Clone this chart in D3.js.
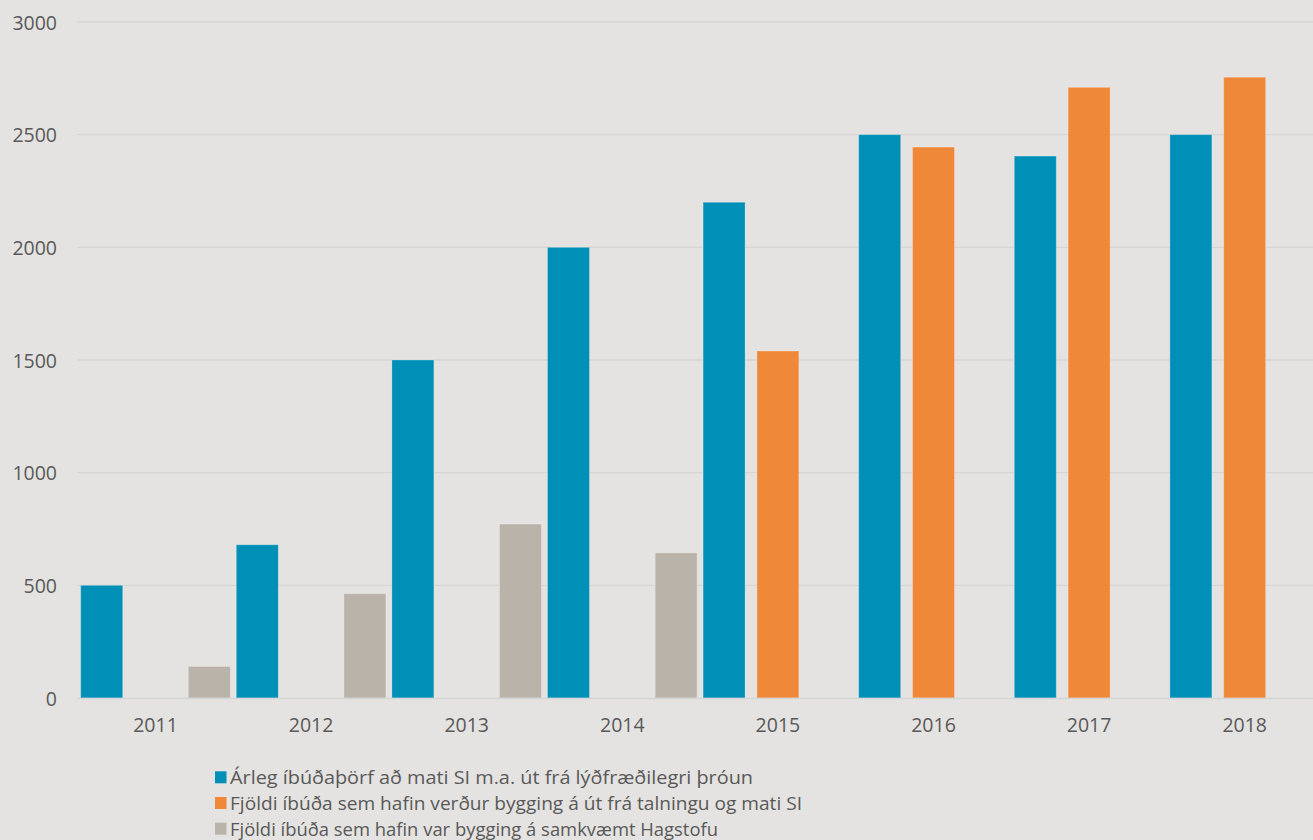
<!DOCTYPE html>
<html><head><meta charset="utf-8">
<script src="https://cdn.jsdelivr.net/npm/d3@7"></script>
<style>
html,body{margin:0;padding:0;background:#E4E3E1;}
svg{display:block;}
</style></head>
<body>
<svg id="chart" width="1313" height="840"></svg>
<script>
const years = ["2011","2012","2013","2014","2015","2016","2017","2018"];
const seriesNames = [
  "Árleg íbúðaþörf að mati SI m.a. út frá lýðfræðilegri þróun",
  "Fjöldi íbúða sem hafin verður bygging á út frá talningu og mati SI",
  "Fjöldi íbúða sem hafin var bygging á samkvæmt Hagstofu"
];
const needValues    = [500, 680, 1500, 2000, 2200, 2500, 2405, 2500];
const forecastValues= [null, null, null, null, 1540, 2445, 2710, 2755];
const statsValues   = [140, 463, 772, 644, null, null, null, null];
const yTicks = [0, 500, 1000, 1500, 2000, 2500, 3000];
const colors = ["#008FB6", "#F0883A", "#BAB3AA"];

(function(){
const svg = d3.select("#chart");
const pLeft = 77.7, pRight = 77.7 + 8*155.6, pTop = 22, pBottom = 698;

const x = d3.scaleBand().domain(years).range([pLeft, pRight]).paddingInner(0).paddingOuter(0);
const inner = d3.scaleBand().domain([0,1,2]).range([3, x.bandwidth()-3]).paddingInner(0.22).paddingOuter(0);
const y = d3.scaleLinear().domain([0, 3000]).range([pBottom, pTop]);

// gridlines
svg.append("g").selectAll("line").data(yTicks.filter(d=>d>0)).join("line")
  .attr("x1", pLeft).attr("x2", 1313)
  .attr("y1", d=>y(d)).attr("y2", d=>y(d))
  .attr("stroke", "#D6D5D3").attr("stroke-width", 1.3);

// y labels
const yAxis = d3.axisLeft(y).tickValues(yTicks).tickFormat(d3.format("d")).tickSize(0).tickPadding(0);
const ya = svg.append("g").attr("transform", `translate(57,0)`).call(yAxis);
ya.select(".domain").remove();
ya.selectAll("text").attr("font-family","'Open Sans', sans-serif").attr("font-size", 19.5)
  .attr("fill", "#595959").attr("dy","0.36em");

// bars
const all = [needValues, forecastValues, statsValues];
all.forEach((vals, si) => {
  svg.append("g").selectAll("rect").data(years.map((yr,i)=>({yr, v: vals[i]})).filter(d=>d.v!=null)).join("rect")
    .attr("x", d => x(d.yr) + inner(si))
    .attr("width", inner.bandwidth())
    .attr("y", d => y(d.v))
    .attr("height", d => y(0) - y(d.v))
    .attr("fill", colors[si])
    .attr("stroke", "rgba(255,255,255,0.25)").attr("stroke-width", 1);
});

// x axis line
svg.append("line").attr("x1", pLeft).attr("x2", 1313).attr("y1", pBottom+0.5).attr("y2", pBottom+0.5)
  .attr("stroke", "#D3D6D8").attr("stroke-width", 1.3);

// x labels
const xAxis = d3.axisBottom(x).tickSize(0).tickPadding(0);
const xa = svg.append("g").attr("transform", `translate(0,${pBottom})`).call(xAxis);
xa.select(".domain").remove();
xa.selectAll("text").attr("font-family","'Open Sans', sans-serif").attr("font-size", 19.5)
  .attr("fill", "#595959").attr("dy", null).attr("y", 34);

// legend
const legendLens = [523, 572, 488];
const lg = svg.append("g");
seriesNames.forEach((name, i) => {
  const base = 784.3 + i*25.7;
  lg.append("rect").attr("x", 215).attr("y", base-13).attr("width", 11.5).attr("height", 12).attr("fill", colors[i]);
  lg.append("text").attr("x", 230).attr("y", base)
    .attr("font-family","'Open Sans', sans-serif").attr("font-size", 18)
    .attr("fill", "#595959")
    .attr("textLength", legendLens[i]).attr("lengthAdjust", "spacingAndGlyphs")
    .text(name);
});
})();
</script>
</body></html>
